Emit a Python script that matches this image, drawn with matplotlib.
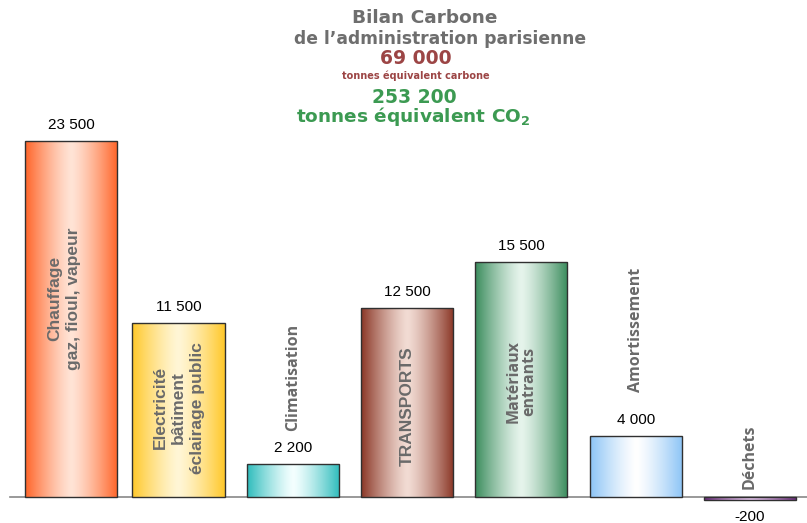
import matplotlib
matplotlib.use("Agg")
import matplotlib.pyplot as plt
import numpy as np
from matplotlib.colors import to_rgb

categories = ["Chauffage\ngaz, fioul, vapeur", "Electricité\nbâtiment\néclairage public",
              "Climatisation", "TRANSPORTS", "Matériaux\nentrants", "Amortissement", "Déchets"]
values = [23500, 11500, 2200, 12500, 15500, 4000, -200]
value_labels = ["23 500", "11 500", "2 200", "12 500", "15 500", "4 000", "-200"]
edge_colors = ["#ff6428", "#ffc82a", "#2ebcbc", "#8a3626", "#3a8c5c", "#8cc4f6", "#6a2a7a"]
center_colors = ["#ffe4d6", "#fff6d6", "#f4ffff", "#f2dcd4", "#e6f4ec", "#ffffff", "#e8c8f0"]
# where the category text sits (inside the bar or above it), in data units
label_y = [13100, 5900, 7900, 6000, 7600, 11000, 2650]
label_fonts = ["Liberation Sans", "Liberation Sans", "Open Sans", "Liberation Sans",
               "Open Sans", "Open Sans", "Open Sans"]

fig = plt.figure(figsize=(8.07, 5.23), dpi=100)
ax = fig.add_axes([0, 0, 1, 1])
ax.set_xlim(-0.5617, 6.4987)
ax.set_ylim(-1716, 32805)
ax.axis("off")

width = 0.805
x = np.arange(len(values)).astype(float)
x[0] += 0.06
bars = ax.bar(x, values, width=width, facecolor="none", edgecolor="#303030", linewidth=1.0, zorder=3)

for b, c1, c2 in zip(bars, edge_colors, center_colors):
    t = np.linspace(0, 1, 200)
    w = 1 - np.abs(2 * t - 1) ** 1.3
    a, c = np.array(to_rgb(c1)), np.array(to_rgb(c2))
    grad = (a[None, :] * (1 - w[:, None]) + c[None, :] * w[:, None])[None, :, :]
    x0, y0 = b.get_x(), b.get_y()
    im = ax.imshow(grad, extent=[x0, x0 + b.get_width(), y0, y0 + b.get_height()],
                   aspect="auto", zorder=2, interpolation="bilinear")
    im.set_clip_path(b)

ax.plot([-0.474, 6.5], [0, 0], color="#888888", linewidth=1.2, zorder=1)

for xi, v, lab in zip(x, values, value_labels):
    off = 1050 if v >= 0 else -1100
    ax.text(xi, v + off, lab, ha="center", va="center", fontsize=11,
            family="Liberation Sans", color="black")

for i, (xi, cat, ly, fnt) in enumerate(zip(x, categories, label_y, label_fonts)):
    size = 12.5 if fnt == "Liberation Sans" else 11.5
    lx = xi - 0.06 if i == 0 else xi
    ax.text(lx, ly, cat, rotation=90, ha="center", va="center", fontsize=size,
            fontweight="bold", family=fnt, color="#6a6a6a",
            multialignment="center", linespacing=1.3 if fnt == "Liberation Sans" else 1.0,
            zorder=4)

fig.text(425 / 807, 0.965, "Bilan Carbone", ha="center", va="center", fontsize=13.3,
         fontweight="bold", color="#6e6e6e")
fig.text(440 / 807, 0.925, "de l\u2019administration parisienne", ha="center", va="center",
         fontsize=12.3, fontweight="bold", color="#6e6e6e")
fig.text(416 / 807, 0.889, "69 000", ha="center", va="center", fontsize=13.5,
         fontweight="bold", color="#9c4545")
fig.text(416 / 807, 0.855, "tonnes équivalent carbone", ha="center", va="center",
         fontsize=7, fontweight="bold", color="#9c4545")
fig.text(414 / 807, 0.814, "253 200", ha="center", va="center", fontsize=13.5,
         fontweight="bold", color="#3c9a52")
fig.text(413 / 807, 0.777, "tonnes équivalent CO$_\\mathbf{2}$", ha="center", va="center",
         fontsize=13.3, fontweight="bold", color="#3c9a52")

fig.savefig("out.png", dpi=100)
